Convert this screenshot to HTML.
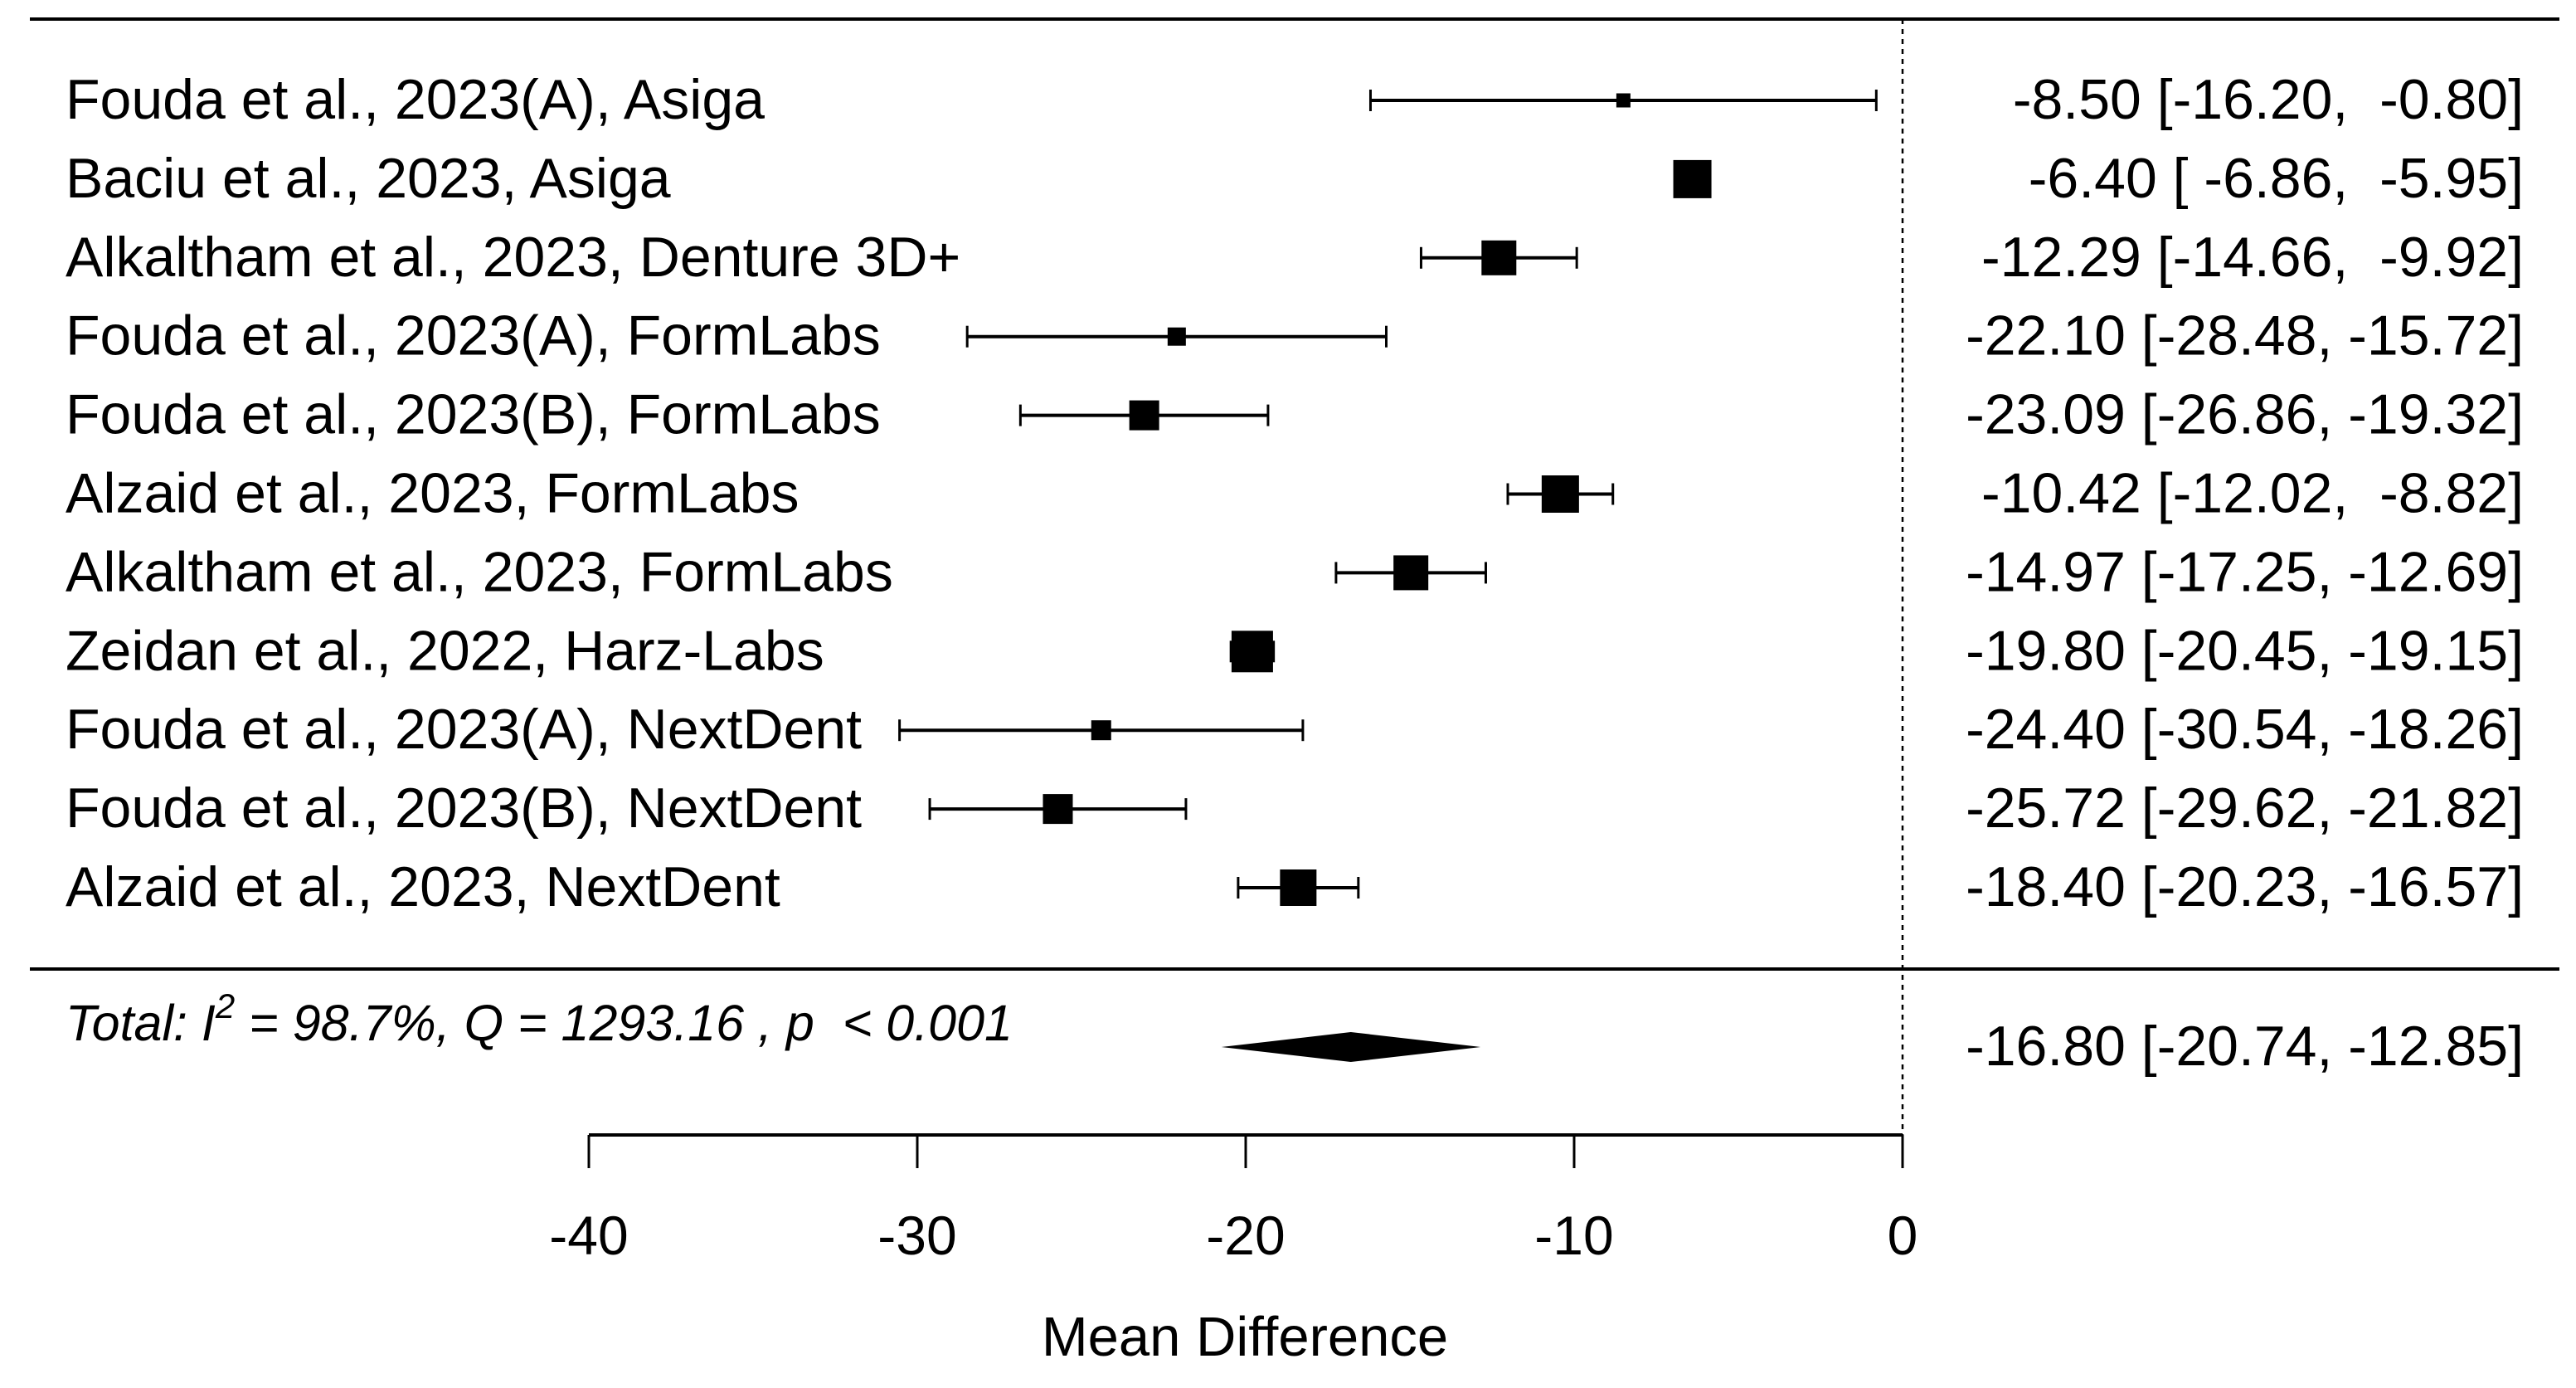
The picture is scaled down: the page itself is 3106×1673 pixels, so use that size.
<!DOCTYPE html>
<html><head><meta charset="utf-8"><style>
html,body{margin:0;padding:0;background:#fff;}
svg{display:block;}
text{font-family:"Liberation Sans",Arial,sans-serif;fill:#000;white-space:pre;}
</style></head><body>
<svg id="chart" width="3106" height="1673" viewBox="0 0 3106 1673" xmlns="http://www.w3.org/2000/svg">
<line x1="36" y1="23" x2="3086" y2="23" stroke="#000" stroke-width="4"/>
<line x1="36" y1="1168" x2="3086" y2="1168" stroke="#000" stroke-width="4"/>
<g id="marks"></g>
<text x="79" y="1254" font-size="61" font-style="italic">Total: I<tspan dy="-27" font-size="42">2</tspan><tspan dy="27"> = 98.7%, Q = 1293.16 , p  &lt; 0.001</tspan></text>
<text x="1501" y="1634" font-size="67" text-anchor="middle">Mean Difference</text>
</svg>
<script>
const studies = ["Fouda et al., 2023(A), Asiga","Baciu et al., 2023, Asiga","Alkaltham et al., 2023, Denture 3D+","Fouda et al., 2023(A), FormLabs","Fouda et al., 2023(B), FormLabs","Alzaid et al., 2023, FormLabs","Alkaltham et al., 2023, FormLabs","Zeidan et al., 2022, Harz-Labs","Fouda et al., 2023(A), NextDent","Fouda et al., 2023(B), NextDent","Alzaid et al., 2023, NextDent"];
const estimates = [-8.50,-6.40,-12.29,-22.10,-23.09,-10.42,-14.97,-19.80,-24.40,-25.72,-18.40];
const lowers = [-16.20,-6.86,-14.66,-28.48,-26.86,-12.02,-17.25,-20.45,-30.54,-29.62,-20.23];
const uppers = [-0.80,-5.95,-9.92,-15.72,-19.32,-8.82,-12.69,-19.15,-18.26,-21.82,-16.57];
const weights = [17,46,42,22,36,45,42,50,24,36,44];
const summaryEst = [-16.80];
const summaryCI = [-20.74,-12.85];
const ticks = [-40,-30,-20,-10,0];
const tickLabels = ["-40","-30","-20","-10","0"];

const NS="http://www.w3.org/2000/svg";
const g=document.getElementById('marks');
const xs=v=>2294+v*39.6;
const ys=i=>121+i*94.9;
function mk(tag,attrs,parent){const e=document.createElementNS(NS,tag);for(const k in attrs)e.setAttribute(k,attrs[k]);(parent||g).appendChild(e);return e;}
const fmt=v=>v.toFixed(2);
const pad=s=>s.length<6?" "+s:s;

const ref=mk('line',{x1:xs(0),y1:23,x2:xs(0),y2:1368,stroke:'#000','stroke-width':2.5,'stroke-dasharray':'6 6'});



studies.forEach((s,i)=>{
  const y=ys(i);
  const row=mk('g',{});
  
  
  const lab=mk('text',{x:79,y:y+22,'font-size':68},row);
  lab.textContent=s;
  
  
  const ci=mk('line',{x1:xs(lowers[i]),y1:y,x2:xs(uppers[i]),y2:y,stroke:'#000','stroke-width':4},row);
  
  
  [lowers[i],uppers[i]].forEach(v=>{
    const c=mk('line',{x1:xs(v),y1:y-13,x2:xs(v),y2:y+13,stroke:'#000','stroke-width':3},row);
    
    
  });
  const w=weights[i];
  const sq=mk('rect',{x:xs(estimates[i])-w/2,y:y-w/2,width:w,height:w,fill:'#000'},row);
  
  
  const val=mk('text',{x:3043,y:y+22,'font-size':68,'text-anchor':'end'},row);
  val.textContent=fmt(estimates[i])+" ["+pad(fmt(lowers[i]))+", "+pad(fmt(uppers[i]))+"]";
  
  
});

const sy=1262;
const dia=mk('polygon',{points:`${xs(summaryCI[0])},${sy} ${xs(summaryEst[0])},${sy-18} ${xs(summaryCI[1])},${sy} ${xs(summaryEst[0])},${sy+18}`,fill:'#000'});


const sv=mk('text',{x:3043,y:sy+22,'font-size':68,'text-anchor':'end'});
sv.textContent=fmt(summaryEst[0])+" ["+pad(fmt(summaryCI[0]))+", "+pad(fmt(summaryCI[1]))+"]";



const ax=mk('line',{x1:xs(ticks[0]),y1:1368,x2:xs(ticks[ticks.length-1]),y2:1368,stroke:'#000','stroke-width':4});


ticks.forEach((t,i)=>{
  const tk=mk('line',{x1:xs(t),y1:1368,x2:xs(t),y2:1408,stroke:'#000','stroke-width':3});
  
  
  const tl=mk('text',{x:xs(t),y:1512,'font-size':66,'text-anchor':'middle'});
  tl.textContent=tickLabels[i];
  
  
});
</script>
</body></html>
